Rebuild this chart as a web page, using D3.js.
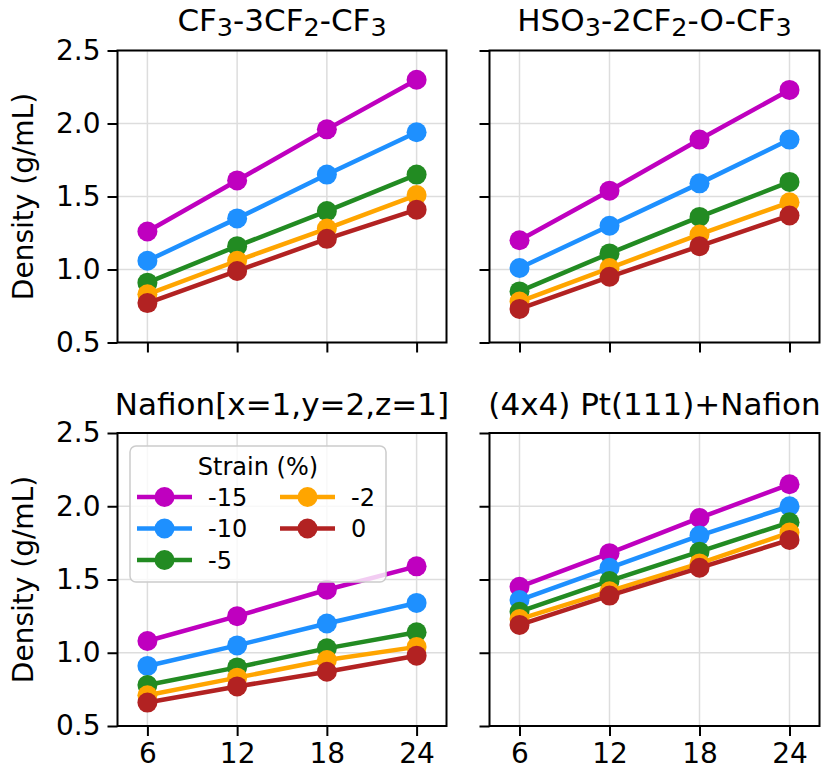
<!DOCTYPE html>
<html>
<head>
<meta charset="utf-8">
<script src="https://cdn.jsdelivr.net/npm/d3@7"></script>
<style>
  body { margin: 0; background: #fff; }
  text { font-family: "DejaVu Sans", sans-serif; fill: #000; }
</style>
</head>
<body>
<svg id="chart" width="827" height="772"></svg>
<script>
// Values
const sizes = [6, 12, 18, 24];
const strains = ["-15", "-10", "-5", "-2", "0"];
const colors = ["#bf00bf", "#1e90ff", "#228b22", "#ffa500", "#b22222"];
const yTicks = [0.5, 1.0, 1.5, 2.0, 2.5];

const cf3Data = [
  [1.26, 1.61, 1.96, 2.30],
  [1.06, 1.35, 1.65, 1.94],
  [0.91, 1.16, 1.40, 1.65],
  [0.83, 1.06, 1.28, 1.51],
  [0.77, 0.99, 1.21, 1.41]
];
const hso3Data = [
  [1.20, 1.54, 1.89, 2.23],
  [1.01, 1.30, 1.59, 1.89],
  [0.85, 1.11, 1.36, 1.60],
  [0.78, 1.01, 1.24, 1.46],
  [0.73, 0.95, 1.16, 1.37]
];
const nafionData = [
  [1.08, 1.25, 1.43, 1.59],
  [0.91, 1.05, 1.20, 1.34],
  [0.78, 0.90, 1.03, 1.14],
  [0.71, 0.83, 0.95, 1.04],
  [0.66, 0.77, 0.87, 0.98]
];
const ptData = [
  [1.45, 1.68, 1.92, 2.15],
  [1.36, 1.58, 1.80, 2.00],
  [1.28, 1.49, 1.69, 1.89],
  [1.23, 1.42, 1.61, 1.82],
  [1.19, 1.39, 1.58, 1.77]
];

// titles as [text, isSubscript] pieces
const titles = [
  [["CF", 0], ["3", 1], ["-3CF", 0], ["2", 1], ["-CF", 0], ["3", 1]],
  [["HSO", 0], ["3", 1], ["-2CF", 0], ["2", 1], ["-O-CF", 0], ["3", 1]],
  [["Nafion[x=1,y=2,z=1]", 0]],
  [["(4x4) Pt(111)+Nafion", 0]]
];

const svg = d3.select("#chart");

const panels = [
  { data: cf3Data,    title: titles[0], x0: 117.5, y0: 50.5, w: 329, h: 292, ty: -19.5, showX: false, showY: true },
  { data: hso3Data,   title: titles[1], x0: 489.5, y0: 50.5, w: 330, h: 292, ty: -19.5, showX: false, showY: false },
  { data: nafionData, title: titles[2], x0: 117.5, y0: 433,  w: 329, h: 293, ty: -18,   showX: true,  showY: true, legend: true },
  { data: ptData,     title: titles[3], x0: 489.5, y0: 433,  w: 330, h: 293, ty: -18,   showX: true,  showY: false }
];

panels.forEach(p => {
  const x = d3.scaleLinear().domain([4, 26]).range([0, p.w]);
  const y = d3.scaleLinear().domain([0.5, 2.5]).range([p.h, 0]);
  const g = svg.append("g").attr("transform", `translate(${p.x0},${p.y0})`);

  // grid
  g.selectAll(".vgrid").data(sizes).enter().append("line")
    .attr("x1", d => x(d)).attr("x2", d => x(d))
    .attr("y1", 0).attr("y2", p.h)
    .attr("stroke", "#dddddd").attr("stroke-width", 1.5);
  g.selectAll(".hgrid").data(yTicks).enter().append("line")
    .attr("x1", 0).attr("x2", p.w)
    .attr("y1", d => y(d)).attr("y2", d => y(d))
    .attr("stroke", "#dddddd").attr("stroke-width", 1.5);

  // series
  const line = d3.line().x((d, i) => x(sizes[i])).y(d => y(d));
  p.data.forEach((vals, si) => {
    g.append("path").datum(vals)
      .attr("d", line)
      .attr("fill", "none")
      .attr("stroke", colors[si])
      .attr("stroke-width", 4.5);
    g.selectAll(null).data(vals).enter().append("circle")
      .attr("cx", (d, i) => x(sizes[i]))
      .attr("cy", d => y(d))
      .attr("r", 10)
      .attr("fill", colors[si]);
  });

  // axes
  const yAxis = g.append("g")
    .call(d3.axisLeft(y).tickValues(yTicks).tickSize(10).tickPadding(7)
      .tickFormat(p.showY ? d3.format(".1f") : ""));
  const xAxis = g.append("g")
    .attr("transform", `translate(0,${p.h})`)
    .call(d3.axisBottom(x).tickValues(sizes).tickSize(10).tickPadding(7)
      .tickFormat(p.showX ? d3.format("d") : ""));
  [yAxis, xAxis].forEach(a => {
    a.select(".domain").remove();
    a.selectAll(".tick line").attr("stroke", "#000").attr("stroke-width", 2);
    a.selectAll(".tick text").style("font-size", "28px").attr("fill", "#000");
  });

  // frame
  g.append("rect")
    .attr("width", p.w).attr("height", p.h)
    .attr("fill", "none").attr("stroke", "#000").attr("stroke-width", 2);

  // title
  const t = g.append("text")
    .attr("x", p.w / 2).attr("y", p.ty)
    .attr("text-anchor", "middle")
    .style("font-size", "31px");
  p.title.forEach(([s, sub], i) => {
    const prevSub = i > 0 && p.title[i - 1][1];
    t.append("tspan")
      .attr("dy", sub ? 5 : (prevSub ? -5 : 0))
      .style("font-size", sub ? "25.5px" : "31px")
      .text(s);
  });

  // y label
  if (p.showY) {
    svg.append("text")
      .attr("transform", `translate(33,${p.y0 + p.h / 2}) rotate(-90)`)
      .attr("text-anchor", "middle")
      .style("font-size", "28px")
      .text("Density (g/mL)");
  }

  // legend
  if (p.legend) {
    const lg = g.append("g").attr("transform", "translate(12.5,13)");
    lg.append("rect")
      .attr("width", 256).attr("height", 136).attr("rx", 6)
      .attr("fill", "#fff").attr("fill-opacity", 0.8)
      .attr("stroke", "#cccccc").attr("stroke-width", 1.5);
    lg.append("text")
      .attr("x", 128).attr("y", 29)
      .attr("text-anchor", "middle")
      .style("font-size", "24px")
      .text("Strain (%)");
    strains.forEach((s, i) => {
      const col = i < 3 ? 0 : 1;
      const row = i < 3 ? i : i - 3;
      const ex = 7 + col * 143;
      const ey = 51 + row * 31.5;
      lg.append("line")
        .attr("x1", ex).attr("x2", ex + 55)
        .attr("y1", ey).attr("y2", ey)
        .attr("stroke", colors[i]).attr("stroke-width", 4.5);
      lg.append("circle")
        .attr("cx", ex + 27.5).attr("cy", ey).attr("r", 10)
        .attr("fill", colors[i]);
      lg.append("text")
        .attr("x", ex + 71).attr("y", ey)
        .attr("dy", "0.36em")
        .style("font-size", "24px")
        .text(s);
    });
  }
});
</script>
</body>
</html>
